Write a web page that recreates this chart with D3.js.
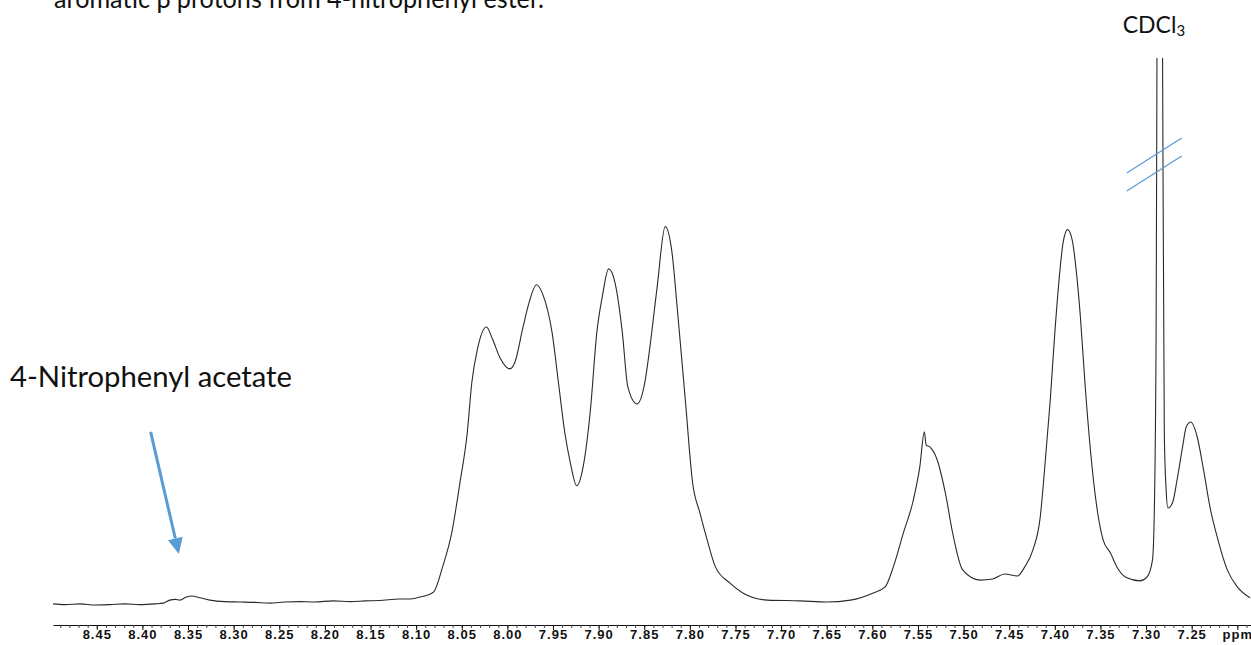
<!DOCTYPE html>
<html>
<head>
<meta charset="utf-8">
<script src="https://cdn.jsdelivr.net/npm/d3@7"></script>
<style>
  body { margin: 0; background: #fff; }
  svg { display: block; }
</style>
</head>
<body>
<script>
// chemical shift (ppm) of each traced point, left to right
const ppmValues = [8.498, 8.485, 8.468, 8.452, 8.436, 8.419, 8.403, 8.386, 8.377, 8.370,
    8.364, 8.359, 8.352, 8.346, 8.337, 8.326, 8.310, 8.293, 8.277, 8.260,
    8.244, 8.227, 8.211, 8.191, 8.172, 8.156, 8.140, 8.118, 8.107, 8.096,
    8.088, 8.081, 8.071, 8.061, 8.052, 8.044, 8.039, 8.033, 8.023, 8.016,
    8.008, 7.997, 7.992, 7.983, 7.977, 7.968, 7.961, 7.951, 7.944, 7.937,
    7.931, 7.924, 7.917, 7.909, 7.902, 7.896, 7.889, 7.882, 7.874, 7.868,
    7.858, 7.849, 7.844, 7.836, 7.827, 7.820, 7.813, 7.805, 7.797, 7.789,
    7.781, 7.772, 7.756, 7.742, 7.715, 7.679, 7.650, 7.624, 7.599, 7.586,
    7.577, 7.566, 7.555, 7.548, 7.543, 7.541, 7.537, 7.529, 7.520, 7.512,
    7.501, 7.482, 7.468, 7.455, 7.441, 7.433, 7.424, 7.416, 7.411, 7.405,
    7.400, 7.394, 7.391, 7.386, 7.381, 7.377, 7.372, 7.367, 7.361, 7.354,
    7.347, 7.339, 7.332, 7.321, 7.307, 7.299, 7.293, 7.291, 7.289, 7.288,
    7.285, 7.282, 7.280, 7.278, 7.276, 7.271, 7.266, 7.260, 7.256, 7.251,
    7.244, 7.237, 7.230, 7.222, 7.211, 7.200, 7.186];

// intensity (arbitrary units, tallest multiplet = ~100)
const intensityValues = [0.3, 0.1, 0.3, 0.0, 0.1, 0.3, 0.1, 0.3, 0.5, 1.3,
    1.5, 1.3, 2.1, 2.4, 1.9, 1.3, 0.9, 0.8, 0.7, 0.5,
    0.8, 0.9, 0.8, 1.1, 0.9, 1.1, 1.2, 1.6, 1.6, 2.1,
    2.6, 3.4, 10.1, 19.1, 32.4, 45.6, 58.9, 67.6, 73.7, 70.3,
    65.5, 62.6, 64.2, 73.5, 79.5, 84.9, 82.2, 72.2, 58.9, 45.6,
    37.7, 31.6, 36.6, 51.7, 72.2, 81.7, 89.1, 85.4, 72.2, 57.8,
    53.3, 59.5, 68.0, 84.0, 100.3, 94.2, 76.4, 54.4, 32.4, 24.4,
    17.2, 10.1, 5.8, 3.2, 1.3, 1.1, 0.8, 1.3, 3.2, 4.8,
    10.1, 19.1, 27.9, 36.6, 45.9, 42.4, 41.9, 38.5, 29.7, 19.1,
    9.3, 6.6, 6.9, 8.2, 7.7, 10.1, 14.6, 23.3, 36.6, 54.4,
    72.2, 89.7, 96.0, 99.5, 96.8, 89.7, 76.4, 58.9, 41.1, 26.0,
    17.2, 13.8, 10.1, 7.2, 6.4, 7.4, 11.9, 24.4, 72.2, 150,
    300, 150, 45, 30.5, 25.7, 27.1, 33.2, 41.9, 47.2, 48.5,
    44.6, 35.8, 26.0, 18.0, 9.3, 4.8, 1.9];

const majorTicks = [8.45, 8.40, 8.35, 8.30, 8.25, 8.20, 8.15, 8.10, 8.05, 8.00, 7.95, 7.90,
    7.85, 7.80, 7.75, 7.70, 7.65, 7.60, 7.55, 7.50, 7.45, 7.40, 7.35, 7.30, 7.25, 7.20];
const tickLabels = ["8.45", "8.40", "8.35", "8.30", "8.25", "8.20", "8.15", "8.10", "8.05", "8.00",
    "7.95", "7.90", "7.85", "7.80", "7.75", "7.70", "7.65", "7.60", "7.55", "7.50",
    "7.45", "7.40", "7.35", "7.30", "7.25", "ppm"];

const width = 1251, height = 645;
const AXIS_Y = 625;
const BLUE = "#5b9bd5";

const svg = d3.select("body").append("svg")
    .attr("width", width)
    .attr("height", height);

svg.append("rect").attr("width", width).attr("height", height).attr("fill", "#fff");

// scales (ppm runs right to left)
const xScale = d3.scaleLinear().domain([8.498, 7.185]).range([53, 1251]);
const yScale = d3.scaleLinear().domain([0, 145]).range([605, 58]);

// clip so the solvent peak is cut at the top of the plot
svg.append("clipPath").attr("id", "plotClip")
    .append("rect")
    .attr("x", 0)
    .attr("y", yScale(145))
    .attr("width", width)
    .attr("height", yScale(-5) - yScale(145));

const spectrum = d3.zip(ppmValues, intensityValues);

const line = d3.line()
    .x(d => xScale(d[0]))
    .y(d => yScale(d[1]))
    .curve(d3.curveMonotoneX);

svg.append("path")
    .datum(spectrum)
    .attr("clip-path", "url(#plotClip)")
    .attr("d", line)
    .attr("fill", "none")
    .attr("stroke", "#2a2a2a")
    .attr("stroke-width", 1.1);

// minor ticks every 0.01 ppm
const minorTicks = d3.range(849, 718, -1).map(v => v / 100);
svg.append("g")
    .attr("transform", "translate(0," + AXIS_Y + ")")
    .call(d3.axisBottom(xScale).tickValues(minorTicks).tickSize(3).tickSizeOuter(0).tickFormat(""))
    .call(g => g.select(".domain").attr("stroke", "#111"))
    .call(g => g.selectAll(".tick line").attr("stroke", "#444"));

// major ticks with labels
svg.append("g")
    .attr("transform", "translate(0," + AXIS_Y + ")")
    .call(d3.axisBottom(xScale)
        .tickValues(majorTicks)
        .tickSize(5)
        .tickSizeOuter(0)
        .tickPadding(0)
        .tickFormat((d, i) => tickLabels[i]))
    .call(g => g.select(".domain").remove())
    .call(g => g.selectAll(".tick line").attr("stroke", "#111"))
    .call(g => g.selectAll(".tick text")
        .attr("font-family", "'Liberation Sans', Arial, sans-serif")
        .attr("font-weight", "bold")
        .attr("font-size", "13px")
        .attr("letter-spacing", "1px")
        .attr("fill", "#111"));

// top caption (cut off by the page edge, as in the source figure)
svg.append("text")
    .attr("x", 54)
    .attr("y", 8)
    .attr("font-family", "Lato, 'Open Sans', sans-serif")
    .attr("font-size", "27px")
    .attr("textLength", 490)
    .attr("lengthAdjust", "spacingAndGlyphs")
    .attr("fill", "#111")
    .text("aromatic β protons from 4-nitrophenyl ester.");

// label + arrow pointing at the small 4-nitrophenyl acetate peak
svg.append("text")
    .attr("x", 10)
    .attr("y", 387)
    .attr("font-family", "Lato, 'Open Sans', sans-serif")
    .attr("font-size", "28px")
    .attr("textLength", 282)
    .attr("lengthAdjust", "spacingAndGlyphs")
    .attr("fill", "#111")
    .text("4-Nitrophenyl acetate");

const arrowStart = [xScale(8.391), yScale(45.9)];
const arrowTip = [xScale(8.360), yScale(13.5)];
const ang = Math.atan2(arrowTip[1] - arrowStart[1], arrowTip[0] - arrowStart[0]);
const headLen = 16, headHalf = 7.5;
const base = [arrowTip[0] - headLen * Math.cos(ang), arrowTip[1] - headLen * Math.sin(ang)];

svg.append("line")
    .attr("x1", arrowStart[0]).attr("y1", arrowStart[1])
    .attr("x2", base[0]).attr("y2", base[1])
    .attr("stroke", BLUE)
    .attr("stroke-width", 3);

svg.append("path")
    .attr("d", d3.line()([
        arrowTip,
        [base[0] + headHalf * Math.sin(ang), base[1] - headHalf * Math.cos(ang)],
        [base[0] - headHalf * Math.sin(ang), base[1] + headHalf * Math.cos(ang)]
    ]) + "Z")
    .attr("fill", BLUE);

// solvent label
const solvX = xScale(7.285);
const solv = svg.append("text")
    .attr("x", solvX - 37)
    .attr("y", 33)
    .attr("font-family", "Lato, 'Open Sans', sans-serif")
    .attr("font-size", "23px")
    .attr("fill", "#111");
solv.append("tspan").text("CDCl");
solv.append("tspan").attr("font-size", "15px").attr("dy", 3).text("3");

// axis-break marks across the solvent peak
[0, 18].forEach(off => {
    svg.append("line")
        .attr("x1", solvX - 33).attr("y1", 173 + off)
        .attr("x2", solvX + 22).attr("y2", 138 + off)
        .attr("stroke", BLUE)
        .attr("stroke-width", 1.3);
});
</script>
</body>
</html>
